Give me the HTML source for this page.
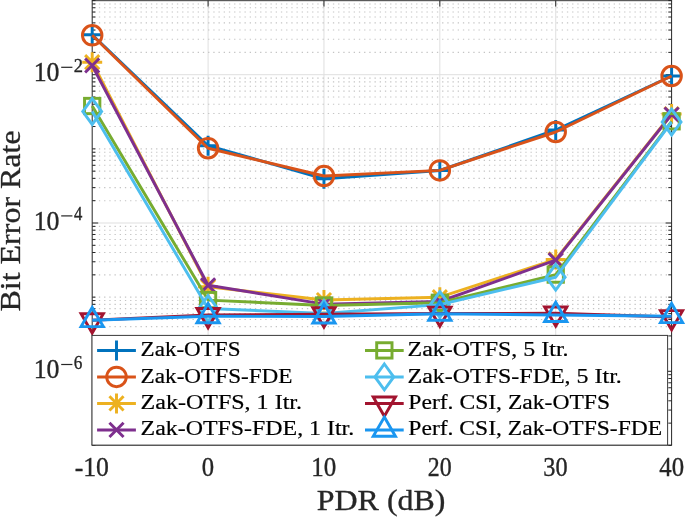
<!DOCTYPE html>
<html><head><meta charset="utf-8"><style>
html,body{margin:0;padding:0;background:#fff;width:685px;height:517px;overflow:hidden}
svg{display:block;will-change:transform}
text{font-family:"Liberation Serif",serif;fill:#000}
.lg{fill:#000;stroke:#000;stroke-width:0.2px}
.tk{fill:#262626;stroke:#262626;stroke-width:0.35px}
.al{fill:#262626;stroke:#262626;stroke-width:0.3px}
</style></head><body>
<svg width="685" height="517" viewBox="0 0 685 517">
<rect x="0" y="0" width="685" height="517" fill="#fff"/>
<path d="M208.08 0.55V445.1" stroke="#DFDFDF" stroke-width="1"/>
<path d="M323.96 0.55V445.1" stroke="#DFDFDF" stroke-width="1"/>
<path d="M439.84 0.55V445.1" stroke="#DFDFDF" stroke-width="1"/>
<path d="M555.72 0.55V445.1" stroke="#DFDFDF" stroke-width="1"/>
<path d="M92.2 74.70H671.6" stroke="#DFDFDF" stroke-width="1"/>
<path d="M92.2 223.00H671.6" stroke="#DFDFDF" stroke-width="1"/>
<path d="M92.2 371.30H671.6" stroke="#DFDFDF" stroke-width="1"/>
<path d="M93.70 423.13H671.6" stroke="#C4C4C4" stroke-width="1.1" stroke-dasharray="1.3 3.9"/>
<path d="M93.70 410.07H671.6" stroke="#C4C4C4" stroke-width="1.1" stroke-dasharray="1.3 3.9"/>
<path d="M93.70 400.81H671.6" stroke="#C4C4C4" stroke-width="1.1" stroke-dasharray="1.3 3.9"/>
<path d="M93.70 393.62H671.6" stroke="#C4C4C4" stroke-width="1.1" stroke-dasharray="1.3 3.9"/>
<path d="M93.70 387.75H671.6" stroke="#C4C4C4" stroke-width="1.1" stroke-dasharray="1.3 3.9"/>
<path d="M93.70 382.79H671.6" stroke="#C4C4C4" stroke-width="1.1" stroke-dasharray="1.3 3.9"/>
<path d="M93.70 378.49H671.6" stroke="#C4C4C4" stroke-width="1.1" stroke-dasharray="1.3 3.9"/>
<path d="M93.70 374.69H671.6" stroke="#C4C4C4" stroke-width="1.1" stroke-dasharray="1.3 3.9"/>
<path d="M93.70 348.98H671.6" stroke="#C4C4C4" stroke-width="1.1" stroke-dasharray="1.3 3.9"/>
<path d="M93.70 335.92H671.6" stroke="#C4C4C4" stroke-width="1.1" stroke-dasharray="1.3 3.9"/>
<path d="M93.70 326.66H671.6" stroke="#C4C4C4" stroke-width="1.1" stroke-dasharray="1.3 3.9"/>
<path d="M93.70 319.47H671.6" stroke="#C4C4C4" stroke-width="1.1" stroke-dasharray="1.3 3.9"/>
<path d="M93.70 313.60H671.6" stroke="#C4C4C4" stroke-width="1.1" stroke-dasharray="1.3 3.9"/>
<path d="M93.70 308.64H671.6" stroke="#C4C4C4" stroke-width="1.1" stroke-dasharray="1.3 3.9"/>
<path d="M93.70 304.34H671.6" stroke="#C4C4C4" stroke-width="1.1" stroke-dasharray="1.3 3.9"/>
<path d="M93.70 300.54H671.6" stroke="#C4C4C4" stroke-width="1.1" stroke-dasharray="1.3 3.9"/>
<path d="M93.70 297.15H671.6" stroke="#C4C4C4" stroke-width="1.1" stroke-dasharray="1.3 3.9"/>
<path d="M93.70 274.83H671.6" stroke="#C4C4C4" stroke-width="1.1" stroke-dasharray="1.3 3.9"/>
<path d="M93.70 261.77H671.6" stroke="#C4C4C4" stroke-width="1.1" stroke-dasharray="1.3 3.9"/>
<path d="M93.70 252.51H671.6" stroke="#C4C4C4" stroke-width="1.1" stroke-dasharray="1.3 3.9"/>
<path d="M93.70 245.32H671.6" stroke="#C4C4C4" stroke-width="1.1" stroke-dasharray="1.3 3.9"/>
<path d="M93.70 239.45H671.6" stroke="#C4C4C4" stroke-width="1.1" stroke-dasharray="1.3 3.9"/>
<path d="M93.70 234.49H671.6" stroke="#C4C4C4" stroke-width="1.1" stroke-dasharray="1.3 3.9"/>
<path d="M93.70 230.19H671.6" stroke="#C4C4C4" stroke-width="1.1" stroke-dasharray="1.3 3.9"/>
<path d="M93.70 226.39H671.6" stroke="#C4C4C4" stroke-width="1.1" stroke-dasharray="1.3 3.9"/>
<path d="M93.70 200.68H671.6" stroke="#C4C4C4" stroke-width="1.1" stroke-dasharray="1.3 3.9"/>
<path d="M93.70 187.62H671.6" stroke="#C4C4C4" stroke-width="1.1" stroke-dasharray="1.3 3.9"/>
<path d="M93.70 178.36H671.6" stroke="#C4C4C4" stroke-width="1.1" stroke-dasharray="1.3 3.9"/>
<path d="M93.70 171.17H671.6" stroke="#C4C4C4" stroke-width="1.1" stroke-dasharray="1.3 3.9"/>
<path d="M93.70 165.30H671.6" stroke="#C4C4C4" stroke-width="1.1" stroke-dasharray="1.3 3.9"/>
<path d="M93.70 160.34H671.6" stroke="#C4C4C4" stroke-width="1.1" stroke-dasharray="1.3 3.9"/>
<path d="M93.70 156.04H671.6" stroke="#C4C4C4" stroke-width="1.1" stroke-dasharray="1.3 3.9"/>
<path d="M93.70 152.24H671.6" stroke="#C4C4C4" stroke-width="1.1" stroke-dasharray="1.3 3.9"/>
<path d="M93.70 148.85H671.6" stroke="#C4C4C4" stroke-width="1.1" stroke-dasharray="1.3 3.9"/>
<path d="M93.70 126.53H671.6" stroke="#C4C4C4" stroke-width="1.1" stroke-dasharray="1.3 3.9"/>
<path d="M93.70 113.47H671.6" stroke="#C4C4C4" stroke-width="1.1" stroke-dasharray="1.3 3.9"/>
<path d="M93.70 104.21H671.6" stroke="#C4C4C4" stroke-width="1.1" stroke-dasharray="1.3 3.9"/>
<path d="M93.70 97.02H671.6" stroke="#C4C4C4" stroke-width="1.1" stroke-dasharray="1.3 3.9"/>
<path d="M93.70 91.15H671.6" stroke="#C4C4C4" stroke-width="1.1" stroke-dasharray="1.3 3.9"/>
<path d="M93.70 86.19H671.6" stroke="#C4C4C4" stroke-width="1.1" stroke-dasharray="1.3 3.9"/>
<path d="M93.70 81.89H671.6" stroke="#C4C4C4" stroke-width="1.1" stroke-dasharray="1.3 3.9"/>
<path d="M93.70 78.09H671.6" stroke="#C4C4C4" stroke-width="1.1" stroke-dasharray="1.3 3.9"/>
<path d="M93.70 52.38H671.6" stroke="#C4C4C4" stroke-width="1.1" stroke-dasharray="1.3 3.9"/>
<path d="M93.70 39.32H671.6" stroke="#C4C4C4" stroke-width="1.1" stroke-dasharray="1.3 3.9"/>
<path d="M93.70 30.06H671.6" stroke="#C4C4C4" stroke-width="1.1" stroke-dasharray="1.3 3.9"/>
<path d="M93.70 22.87H671.6" stroke="#C4C4C4" stroke-width="1.1" stroke-dasharray="1.3 3.9"/>
<path d="M93.70 17.00H671.6" stroke="#C4C4C4" stroke-width="1.1" stroke-dasharray="1.3 3.9"/>
<path d="M93.70 12.04H671.6" stroke="#C4C4C4" stroke-width="1.1" stroke-dasharray="1.3 3.9"/>
<path d="M93.70 7.74H671.6" stroke="#C4C4C4" stroke-width="1.1" stroke-dasharray="1.3 3.9"/>
<path d="M93.70 3.94H671.6" stroke="#C4C4C4" stroke-width="1.1" stroke-dasharray="1.3 3.9"/>
<path d="M92.20 445.45h3.3M671.60 445.45h-3.3M92.20 423.13h3.3M671.60 423.13h-3.3M92.20 410.07h3.3M671.60 410.07h-3.3M92.20 400.81h3.3M671.60 400.81h-3.3M92.20 393.62h3.3M671.60 393.62h-3.3M92.20 387.75h3.3M671.60 387.75h-3.3M92.20 382.79h3.3M671.60 382.79h-3.3M92.20 378.49h3.3M671.60 378.49h-3.3M92.20 374.69h3.3M671.60 374.69h-3.3M92.20 371.30h6M671.60 371.30h-6M92.20 348.98h3.3M671.60 348.98h-3.3M92.20 335.92h3.3M671.60 335.92h-3.3M92.20 326.66h3.3M671.60 326.66h-3.3M92.20 319.47h3.3M671.60 319.47h-3.3M92.20 313.60h3.3M671.60 313.60h-3.3M92.20 308.64h3.3M671.60 308.64h-3.3M92.20 304.34h3.3M671.60 304.34h-3.3M92.20 300.54h3.3M671.60 300.54h-3.3M92.20 297.15h3.3M671.60 297.15h-3.3M92.20 274.83h3.3M671.60 274.83h-3.3M92.20 261.77h3.3M671.60 261.77h-3.3M92.20 252.51h3.3M671.60 252.51h-3.3M92.20 245.32h3.3M671.60 245.32h-3.3M92.20 239.45h3.3M671.60 239.45h-3.3M92.20 234.49h3.3M671.60 234.49h-3.3M92.20 230.19h3.3M671.60 230.19h-3.3M92.20 226.39h3.3M671.60 226.39h-3.3M92.20 223.00h6M671.60 223.00h-6M92.20 200.68h3.3M671.60 200.68h-3.3M92.20 187.62h3.3M671.60 187.62h-3.3M92.20 178.36h3.3M671.60 178.36h-3.3M92.20 171.17h3.3M671.60 171.17h-3.3M92.20 165.30h3.3M671.60 165.30h-3.3M92.20 160.34h3.3M671.60 160.34h-3.3M92.20 156.04h3.3M671.60 156.04h-3.3M92.20 152.24h3.3M671.60 152.24h-3.3M92.20 148.85h3.3M671.60 148.85h-3.3M92.20 126.53h3.3M671.60 126.53h-3.3M92.20 113.47h3.3M671.60 113.47h-3.3M92.20 104.21h3.3M671.60 104.21h-3.3M92.20 97.02h3.3M671.60 97.02h-3.3M92.20 91.15h3.3M671.60 91.15h-3.3M92.20 86.19h3.3M671.60 86.19h-3.3M92.20 81.89h3.3M671.60 81.89h-3.3M92.20 78.09h3.3M671.60 78.09h-3.3M92.20 74.70h6M671.60 74.70h-6M92.20 52.38h3.3M671.60 52.38h-3.3M92.20 39.32h3.3M671.60 39.32h-3.3M92.20 30.06h3.3M671.60 30.06h-3.3M92.20 22.87h3.3M671.60 22.87h-3.3M92.20 17.00h3.3M671.60 17.00h-3.3M92.20 12.04h3.3M671.60 12.04h-3.3M92.20 7.74h3.3M671.60 7.74h-3.3M92.20 3.94h3.3M671.60 3.94h-3.3M92.20 0.55h3.3M671.60 0.55h-3.3M208.08 0.55v6M208.08 445.1v-6M323.96 0.55v6M323.96 445.1v-6M439.84 0.55v6M439.84 445.1v-6M555.72 0.55v6M555.72 445.1v-6" stroke="#262626" stroke-width="1" fill="none"/>
<path d="M92.2 0.55V445.1M671.6 0.55V445.1M91.7 445.1H672.1" fill="none" stroke="#262626" stroke-width="1"/><path d="M91.7 0.68H672.1" stroke="#262626" stroke-width="0.92"/>
<polyline points="92.20,34.70 208.08,145.70 323.96,178.80 439.84,170.50 555.72,130.00 671.60,76.00" fill="none" stroke="#0072BD" stroke-width="2.95" stroke-linejoin="round"/>
<path d="M82.20 34.70H102.20M92.20 24.70V44.70" stroke="#0072BD" stroke-width="2.95" fill="none"/>
<path d="M198.08 145.70H218.08M208.08 135.70V155.70" stroke="#0072BD" stroke-width="2.95" fill="none"/>
<path d="M313.96 178.80H333.96M323.96 168.80V188.80" stroke="#0072BD" stroke-width="2.95" fill="none"/>
<path d="M429.84 170.50H449.84M439.84 160.50V180.50" stroke="#0072BD" stroke-width="2.95" fill="none"/>
<path d="M545.72 130.00H565.72M555.72 120.00V140.00" stroke="#0072BD" stroke-width="2.95" fill="none"/>
<path d="M661.60 76.00H681.60M671.60 66.00V86.00" stroke="#0072BD" stroke-width="2.95" fill="none"/>
<polyline points="92.20,35.30 208.08,148.20 323.96,176.00 439.84,170.40 555.72,132.00 671.60,76.00" fill="none" stroke="#D95319" stroke-width="2.95" stroke-linejoin="round"/>
<circle cx="92.20" cy="35.30" r="9.75" stroke="#D95319" stroke-width="2.95" fill="none"/>
<circle cx="208.08" cy="148.20" r="9.75" stroke="#D95319" stroke-width="2.95" fill="none"/>
<circle cx="323.96" cy="176.00" r="9.75" stroke="#D95319" stroke-width="2.95" fill="none"/>
<circle cx="439.84" cy="170.40" r="9.75" stroke="#D95319" stroke-width="2.95" fill="none"/>
<circle cx="555.72" cy="132.00" r="9.75" stroke="#D95319" stroke-width="2.95" fill="none"/>
<circle cx="671.60" cy="76.00" r="9.75" stroke="#D95319" stroke-width="2.95" fill="none"/>
<polyline points="92.20,62.20 208.08,286.80 323.96,300.00 439.84,297.20 555.72,259.40 671.60,114.00" fill="none" stroke="#EDB120" stroke-width="2.95" stroke-linejoin="round"/>
<path d="M82.20 62.20H102.20M92.20 52.20V72.20M85.13 55.13L99.27 69.27M85.13 69.27L99.27 55.13" stroke="#EDB120" stroke-width="2.95" fill="none"/>
<path d="M198.08 286.80H218.08M208.08 276.80V296.80M201.01 279.73L215.15 293.87M201.01 293.87L215.15 279.73" stroke="#EDB120" stroke-width="2.95" fill="none"/>
<path d="M313.96 300.00H333.96M323.96 290.00V310.00M316.89 292.93L331.03 307.07M316.89 307.07L331.03 292.93" stroke="#EDB120" stroke-width="2.95" fill="none"/>
<path d="M429.84 297.20H449.84M439.84 287.20V307.20M432.77 290.13L446.91 304.27M432.77 304.27L446.91 290.13" stroke="#EDB120" stroke-width="2.95" fill="none"/>
<path d="M545.72 259.40H565.72M555.72 249.40V269.40M548.65 252.33L562.79 266.47M548.65 266.47L562.79 252.33" stroke="#EDB120" stroke-width="2.95" fill="none"/>
<path d="M661.60 114.00H681.60M671.60 104.00V124.00M664.53 106.93L678.67 121.07M664.53 121.07L678.67 106.93" stroke="#EDB120" stroke-width="2.95" fill="none"/>
<polyline points="92.20,65.50 208.08,285.30 323.96,304.10 439.84,301.50 555.72,260.20 671.60,114.50" fill="none" stroke="#7E2F8E" stroke-width="2.95" stroke-linejoin="round"/>
<path d="M85.13 58.43L99.27 72.57M85.13 72.57L99.27 58.43" stroke="#7E2F8E" stroke-width="2.95" fill="none"/>
<path d="M201.01 278.23L215.15 292.37M201.01 292.37L215.15 278.23" stroke="#7E2F8E" stroke-width="2.95" fill="none"/>
<path d="M316.89 297.03L331.03 311.17M316.89 311.17L331.03 297.03" stroke="#7E2F8E" stroke-width="2.95" fill="none"/>
<path d="M432.77 294.43L446.91 308.57M432.77 308.57L446.91 294.43" stroke="#7E2F8E" stroke-width="2.95" fill="none"/>
<path d="M548.65 253.13L562.79 267.27M548.65 267.27L562.79 253.13" stroke="#7E2F8E" stroke-width="2.95" fill="none"/>
<path d="M664.53 107.43L678.67 121.57M664.53 121.57L678.67 107.43" stroke="#7E2F8E" stroke-width="2.95" fill="none"/>
<polyline points="92.20,106.00 208.08,300.10 323.96,305.50 439.84,302.80 555.72,274.60 671.60,121.30" fill="none" stroke="#77AC30" stroke-width="2.95" stroke-linejoin="round"/>
<rect x="84.55" y="98.35" width="15.30" height="15.30" stroke="#77AC30" stroke-width="2.95" fill="none"/>
<rect x="200.43" y="292.45" width="15.30" height="15.30" stroke="#77AC30" stroke-width="2.95" fill="none"/>
<rect x="316.31" y="297.85" width="15.30" height="15.30" stroke="#77AC30" stroke-width="2.95" fill="none"/>
<rect x="432.19" y="295.15" width="15.30" height="15.30" stroke="#77AC30" stroke-width="2.95" fill="none"/>
<rect x="548.07" y="266.95" width="15.30" height="15.30" stroke="#77AC30" stroke-width="2.95" fill="none"/>
<rect x="663.95" y="113.65" width="15.30" height="15.30" stroke="#77AC30" stroke-width="2.95" fill="none"/>
<polyline points="92.20,111.50 208.08,308.50 323.96,313.50 439.84,304.60 555.72,277.20 671.60,122.00" fill="none" stroke="#4DBEEE" stroke-width="2.95" stroke-linejoin="round"/>
<path d="M92.20 98.60L101.60 111.50L92.20 124.40L82.80 111.50Z" stroke="#4DBEEE" stroke-width="2.95" fill="none"/>
<path d="M208.08 295.60L217.48 308.50L208.08 321.40L198.68 308.50Z" stroke="#4DBEEE" stroke-width="2.95" fill="none"/>
<path d="M323.96 300.60L333.36 313.50L323.96 326.40L314.56 313.50Z" stroke="#4DBEEE" stroke-width="2.95" fill="none"/>
<path d="M439.84 291.70L449.24 304.60L439.84 317.50L430.44 304.60Z" stroke="#4DBEEE" stroke-width="2.95" fill="none"/>
<path d="M555.72 264.30L565.12 277.20L555.72 290.10L546.32 277.20Z" stroke="#4DBEEE" stroke-width="2.95" fill="none"/>
<path d="M671.60 109.10L681.00 122.00L671.60 134.90L662.20 122.00Z" stroke="#4DBEEE" stroke-width="2.95" fill="none"/>
<polyline points="92.20,320.20 208.08,314.90 323.96,314.20 439.84,313.50 555.72,313.30 671.60,317.00" fill="none" stroke="#A2142F" stroke-width="2.95" stroke-linejoin="round"/>
<path d="M92.20 333.00L103.30 313.80L81.10 313.80Z" stroke="#A2142F" stroke-width="2.95" fill="none"/>
<path d="M208.08 327.70L219.18 308.50L196.98 308.50Z" stroke="#A2142F" stroke-width="2.95" fill="none"/>
<path d="M323.96 327.00L335.06 307.80L312.86 307.80Z" stroke="#A2142F" stroke-width="2.95" fill="none"/>
<path d="M439.84 326.30L450.94 307.10L428.74 307.10Z" stroke="#A2142F" stroke-width="2.95" fill="none"/>
<path d="M555.72 326.10L566.82 306.90L544.62 306.90Z" stroke="#A2142F" stroke-width="2.95" fill="none"/>
<path d="M671.60 329.80L682.70 310.60L660.50 310.60Z" stroke="#A2142F" stroke-width="2.95" fill="none"/>
<polyline points="92.20,320.20 208.08,316.30 323.96,316.50 439.84,313.80 555.72,315.00 671.60,316.20" fill="none" stroke="#1A96F0" stroke-width="2.95" stroke-linejoin="round"/>
<path d="M92.20 307.40L103.30 326.60L81.10 326.60Z" stroke="#1A96F0" stroke-width="2.95" fill="none"/>
<path d="M208.08 303.50L219.18 322.70L196.98 322.70Z" stroke="#1A96F0" stroke-width="2.95" fill="none"/>
<path d="M323.96 303.70L335.06 322.90L312.86 322.90Z" stroke="#1A96F0" stroke-width="2.95" fill="none"/>
<path d="M439.84 301.00L450.94 320.20L428.74 320.20Z" stroke="#1A96F0" stroke-width="2.95" fill="none"/>
<path d="M555.72 302.20L566.82 321.40L544.62 321.40Z" stroke="#1A96F0" stroke-width="2.95" fill="none"/>
<path d="M671.60 303.40L682.70 322.60L660.50 322.60Z" stroke="#1A96F0" stroke-width="2.95" fill="none"/>
<rect x="92.0" y="335.4" width="575.60" height="109.70" fill="#fff" stroke="#3a3a3a" stroke-width="1"/>
<path d="M97.1 350.40H135.9" stroke="#0072BD" stroke-width="2.95"/>
<path d="M106.50 350.40H126.50M116.50 340.40V360.40" stroke="#0072BD" stroke-width="2.95" fill="none"/>
<text x="140.62" y="356.20" textLength="99.87" lengthAdjust="spacingAndGlyphs" class="lg" style="font-size:21.6px">Zak-OTFS</text>
<path d="M97.1 376.90H135.9" stroke="#D95319" stroke-width="2.95"/>
<circle cx="116.50" cy="376.90" r="9.75" stroke="#D95319" stroke-width="2.95" fill="none"/>
<text x="140.61" y="382.57" textLength="151.91" lengthAdjust="spacingAndGlyphs" class="lg" style="font-size:21.6px">Zak-OTFS-FDE</text>
<path d="M97.1 403.40H135.9" stroke="#EDB120" stroke-width="2.95"/>
<path d="M106.50 403.40H126.50M116.50 393.40V413.40M109.43 396.33L123.57 410.47M109.43 410.47L123.57 396.33" stroke="#EDB120" stroke-width="2.95" fill="none"/>
<text x="140.57" y="408.94" textLength="161.43" lengthAdjust="spacingAndGlyphs" class="lg" style="font-size:21.6px">Zak-OTFS, 1 Itr.</text>
<path d="M97.1 429.90H135.9" stroke="#7E2F8E" stroke-width="2.95"/>
<path d="M109.43 422.83L123.57 436.97M109.43 436.97L123.57 422.83" stroke="#7E2F8E" stroke-width="2.95" fill="none"/>
<text x="140.58" y="435.31" textLength="213.61" lengthAdjust="spacingAndGlyphs" class="lg" style="font-size:21.6px">Zak-OTFS-FDE, 1 Itr.</text>
<path d="M365.0 350.40H403.7" stroke="#77AC30" stroke-width="2.95"/>
<rect x="376.70" y="342.75" width="15.30" height="15.30" stroke="#77AC30" stroke-width="2.95" fill="none"/>
<text x="407.58" y="356.20" textLength="161.02" lengthAdjust="spacingAndGlyphs" class="lg" style="font-size:21.6px">Zak-OTFS, 5 Itr.</text>
<path d="M365.0 376.90H403.7" stroke="#4DBEEE" stroke-width="2.95"/>
<path d="M384.35 364.00L393.75 376.90L384.35 389.80L374.95 376.90Z" stroke="#4DBEEE" stroke-width="2.95" fill="none"/>
<text x="407.58" y="382.57" textLength="214.22" lengthAdjust="spacingAndGlyphs" class="lg" style="font-size:21.6px">Zak-OTFS-FDE, 5 Itr.</text>
<path d="M365.0 403.40H403.7" stroke="#A2142F" stroke-width="2.95"/>
<path d="M384.35 416.20L395.45 397.00L373.25 397.00Z" stroke="#A2142F" stroke-width="2.95" fill="none"/>
<text x="408.33" y="408.94" textLength="201.79" lengthAdjust="spacingAndGlyphs" class="lg" style="font-size:21.6px">Perf. CSI, Zak-OTFS</text>
<path d="M365.0 429.90H403.7" stroke="#1A96F0" stroke-width="2.95"/>
<path d="M384.35 417.10L395.45 436.30L373.25 436.30Z" stroke="#1A96F0" stroke-width="2.95" fill="none"/>
<text x="408.33" y="435.31" textLength="253.91" lengthAdjust="spacingAndGlyphs" class="lg" style="font-size:21.6px">Perf. CSI, Zak-OTFS-FDE</text>
<text x="74.70" y="475.70" textLength="34.31" lengthAdjust="spacingAndGlyphs" class="tk" style="font-size:27.1px">-10</text>
<text x="201.63" y="475.70" textLength="12.34" lengthAdjust="spacingAndGlyphs" class="tk" style="font-size:27.1px">0</text>
<text x="311.34" y="475.70" textLength="25.04" lengthAdjust="spacingAndGlyphs" class="tk" style="font-size:27.1px">10</text>
<text x="427.75" y="475.70" textLength="23.89" lengthAdjust="spacingAndGlyphs" class="tk" style="font-size:27.1px">20</text>
<text x="543.26" y="475.70" textLength="24.30" lengthAdjust="spacingAndGlyphs" class="tk" style="font-size:27.1px">30</text>
<text x="659.31" y="475.70" textLength="24.76" lengthAdjust="spacingAndGlyphs" class="tk" style="font-size:27.1px">40</text>
<text x="33.68" y="81.00" textLength="25.82" lengthAdjust="spacingAndGlyphs" class="tk" style="font-size:27.1px">10</text>
<rect x="61.2" y="66.70" width="11.2" height="1.2" fill="#262626"/>
<text x="73.72" y="71.60" textLength="9.24" lengthAdjust="spacingAndGlyphs" class="tk" style="font-size:18.4px">2</text>
<text x="33.68" y="229.60" textLength="25.82" lengthAdjust="spacingAndGlyphs" class="tk" style="font-size:27.1px">10</text>
<rect x="61.2" y="215.30" width="11.2" height="1.2" fill="#262626"/>
<text x="74.04" y="220.20" textLength="8.32" lengthAdjust="spacingAndGlyphs" class="tk" style="font-size:18.4px">4</text>
<text x="33.68" y="378.20" textLength="25.82" lengthAdjust="spacingAndGlyphs" class="tk" style="font-size:27.1px">10</text>
<rect x="61.2" y="363.90" width="11.2" height="1.2" fill="#262626"/>
<text x="73.76" y="368.80" textLength="8.61" lengthAdjust="spacingAndGlyphs" class="tk" style="font-size:18.4px">6</text>
<text x="316.80" y="509.60" textLength="128.65" lengthAdjust="spacingAndGlyphs" class="al" style="font-size:29.7px">PDR (dB)</text>
<text transform="translate(19.6 0) rotate(-90)" x="-311.50" y="0" textLength="181.10" lengthAdjust="spacingAndGlyphs" class="al" style="font-size:29.7px">Bit Error Rate</text>
</svg>
</body></html>
